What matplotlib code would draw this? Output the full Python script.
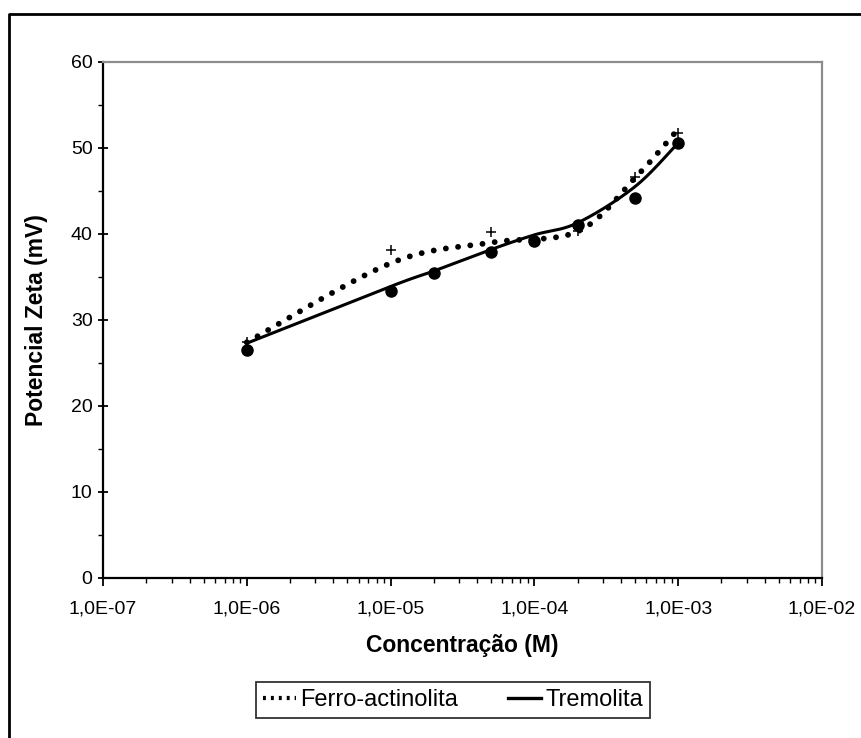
import numpy as np
import matplotlib
matplotlib.use("Agg")
import matplotlib.pyplot as plt
from matplotlib.lines import Line2D
from matplotlib.ticker import LogLocator, NullFormatter, FixedLocator

plt.rcParams['font.family'] = ['Liberation Sans', 'DejaVu Sans']

conc_tremolita = [1e-6, 1e-5, 2e-5, 5e-5, 1e-4, 2e-4, 5e-4, 1e-3]
zeta_tremolita = [26.5, 33.4, 35.5, 37.9, 39.2, 41.0, 44.2, 50.6]

conc_ferro = [1e-6, 1e-5, 5e-5, 2e-4, 5e-4, 1e-3]
zeta_ferro = [27.4, 38.1, 40.2, 40.3, 46.6, 51.7]

# fitted curves (values of the drawn lines at the same concentrations)
curve_tremolita = [27.3, 33.9, 35.7, 38.2, 39.9, 41.3, 45.5, 50.6]
curve_ferro = [27.4, 36.6, 39.0, 40.3, 46.5, 52.2]

xtick_vals = [1e-7, 1e-6, 1e-5, 1e-4, 1e-3, 1e-2]
xtick_labels = ["1,0E-07", "1,0E-06", "1,0E-05", "1,0E-04", "1,0E-03", "1,0E-02"]


def smooth(xs, ys, n=40):
    # Excel style smoothed line (Catmull-Rom bezier) in log-x space
    P = np.column_stack([np.log10(xs), np.asarray(ys, float)])
    P = np.vstack([P[0], P, P[-1]])
    t = np.linspace(0, 1, n)[:, None]
    out = []
    for i in range(1, len(P) - 2):
        p0, p1, p2, p3 = P[i - 1], P[i], P[i + 1], P[i + 2]
        c1 = p1 + (p2 - p0) / 6
        c2 = p2 - (p3 - p1) / 6
        seg = (1 - t) ** 3 * p1 + 3 * (1 - t) ** 2 * t * c1 + 3 * (1 - t) * t ** 2 * c2 + t ** 3 * p2
        out.append(seg if i == 1 else seg[1:])
    out = np.vstack(out)
    return 10 ** out[:, 0], out[:, 1]


fig = plt.figure(figsize=(8.62, 7.38), dpi=100)
ax = fig.add_axes([103 / 862, 1 - 578 / 738, (822 - 103) / 862, (578 - 62) / 738])

fx, fy = smooth(conc_ferro, curve_ferro)
tx, ty = smooth(conc_tremolita, curve_tremolita)

ax.plot(fx, fy, color='black', lw=4.2, ls=(0, (0.01, 2.1)), dash_capstyle='round')
ax.plot(tx, ty, color='black', lw=2.2, solid_capstyle='round')
ax.plot(conc_ferro, zeta_ferro, ls='none', marker='+', ms=7.5, mew=1.1, color='black')
ax.plot(conc_tremolita, zeta_tremolita, ls='none', marker='o', ms=8, color='black')

ax.set_xscale('log')
ax.set_xlim(1e-7, 1e-2)
ax.set_ylim(0, 60)
ax.xaxis.set_major_locator(FixedLocator(xtick_vals))
ax.set_xticklabels(xtick_labels)
ax.xaxis.set_minor_locator(LogLocator(base=10, subs=np.arange(2, 10)))
ax.xaxis.set_minor_formatter(NullFormatter())
ax.set_yticks(np.arange(0, 61, 10))
ax.set_yticks(np.arange(5, 60, 10), minor=True)

ax.tick_params(axis='x', which='major', direction='out', length=6, width=1.3, labelsize=14, pad=10)
ax.tick_params(axis='x', which='minor', direction='out', length=3.5, width=1.0)
ax.tick_params(axis='y', which='major', direction='inout', length=7, width=1.3, labelsize=14, pad=4)
ax.tick_params(axis='y', which='minor', direction='out', length=3.5, width=1.0)

for s in ['left', 'bottom']:
    ax.spines[s].set_linewidth(1.6)
    ax.spines[s].set_color('black')
for s in ['top', 'right']:
    ax.spines[s].set_linewidth(1.6)
    ax.spines[s].set_color('#8c8c8c')

ax.set_xlabel("Concentração (M)", fontsize=16.5, fontweight='bold', labelpad=12)
ax.set_ylabel("Potencial Zeta (mV)", fontsize=16.5, fontweight='bold', labelpad=16)

handles = [Line2D([], [], color='black', lw=3.0, ls=(0, (0.7, 1.2)), dash_capstyle='butt'),
           Line2D([], [], color='black', lw=2.4)]
leg = fig.legend(handles, ["Ferro-actinolita", "Tremolita"], loc='center',
                 bbox_to_anchor=(453 / 862, 1 - 700 / 738), ncol=2, fontsize=17,
                 frameon=True, fancybox=False, edgecolor='black', handlelength=1.4,
                 handletextpad=0.2, columnspacing=2.1, borderpad=0.3)
leg.get_frame().set_linewidth(1.3)

# outer chart border (left and top edges visible)
fig.add_artist(Line2D([9 / 862, 9 / 862, 1.05], [-0.05, 1 - 14 / 738, 1 - 14 / 738],
                      color='black', lw=2, transform=fig.transFigure))

fig.savefig("out.png", dpi=100)
